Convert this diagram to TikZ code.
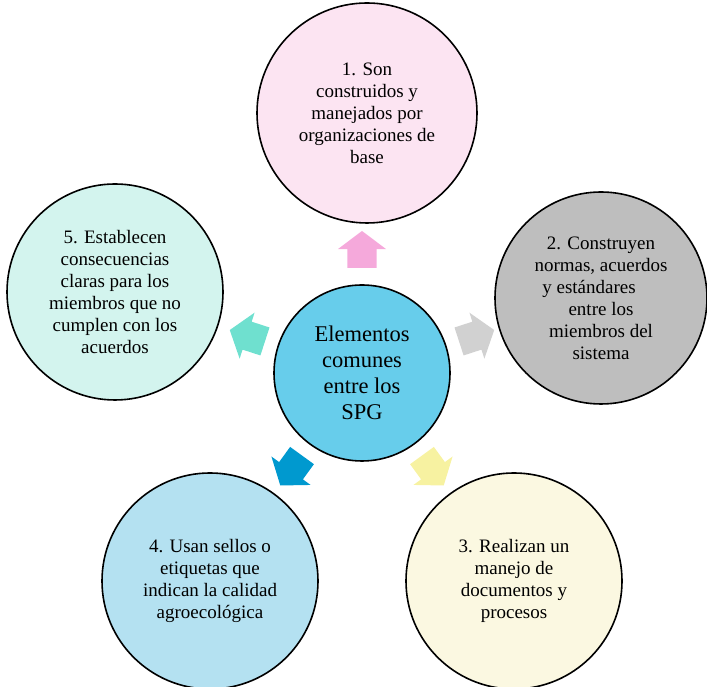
\documentclass[tikz,border=0pt]{standalone}
\usepackage{fontspec}
\setmainfont{Liberation Serif}
\usetikzlibrary{shapes.arrows,calc}

\definecolor{hubfill}{HTML}{67CDEB}
\definecolor{pinkfill}{HTML}{FCE4F2}
\definecolor{pinkarrow}{HTML}{F5A9DB}
\definecolor{grayfill}{HTML}{BEBEBE}
\definecolor{grayarrow}{HTML}{D1D1D1}
\definecolor{yellowfill}{HTML}{FBF8E1}
\definecolor{yellowarrow}{HTML}{F7F2A1}
\definecolor{bluefill}{HTML}{B4E1F1}
\definecolor{bluearrow}{HTML}{0099CF}
\definecolor{mintfill}{HTML}{D3F4EE}
\definecolor{mintarrow}{HTML}{6FE0CF}

\begin{document}
\begin{tikzpicture}[x=1pt, y=1pt,
  item/.style={circle, draw, line width=1.6pt, minimum size=216pt, inner sep=0pt,
    align=center, font=\fontsize{19}{22}\selectfont},
  pointer/.style={single arrow, minimum height=37pt, minimum width=48pt,
    inner xsep=0pt, inner ysep=14.5pt, single arrow head extend=9.5pt,
    single arrow tip angle=106}]
\useasboundingbox (0,0) rectangle (707,687);

% hub in the middle
\node [item, fill=hubfill, minimum size=176pt, font=\fontsize{22.5}{26}\selectfont]
  (hub) at (362,314) {Elementos\\comunes\\entre los\\SPG};

% the five elements
\node [item, fill=pinkfill, minimum size=220pt] (base) at (367,574)
  {1. Son\\construidos y\\manejados por\\organizaciones de\\base};
\node [item, fill=grayfill, minimum size=212pt] (norms) at (601,389)
  {2. Construyen\\normas, acuerdos\\y estándares\rule{24pt}{0pt}\\entre los\\miembros del\\sistema};
\node [item, fill=yellowfill] (docs) at (514,106)
  {3. Realizan un\\manejo de\\documentos y\\procesos};
\node [item, fill=bluefill] (seals) at (210,106)
  {4. Usan sellos o\\etiquetas que\\indican la calidad\\agroecológica};
\node [item, fill=mintfill] (rules) at (115,395)
  {5. Establecen\\consecuencias\\claras para los\\miembros que no\\cumplen con los\\acuerdos};

% block arrows pointing outwards
\node [pointer, fill=pinkarrow, rotate=90] (to-base) at ($(hub)+(90:118)$) {};
\node [pointer, fill=grayarrow, rotate=18] (to-norms) at ($(hub)+(18:115)$) {};
\node [pointer, fill=yellowarrow, rotate=-54] (to-docs) at ($(hub)+(-54:115)$) {};
\node [pointer, fill=bluearrow, rotate=-126] (to-seals) at ($(hub)+(-126:115)$) {};
\node [pointer, fill=mintarrow, rotate=162] (to-rules) at ($(hub)+(162:115)$) {};
\end{tikzpicture}
\end{document}
